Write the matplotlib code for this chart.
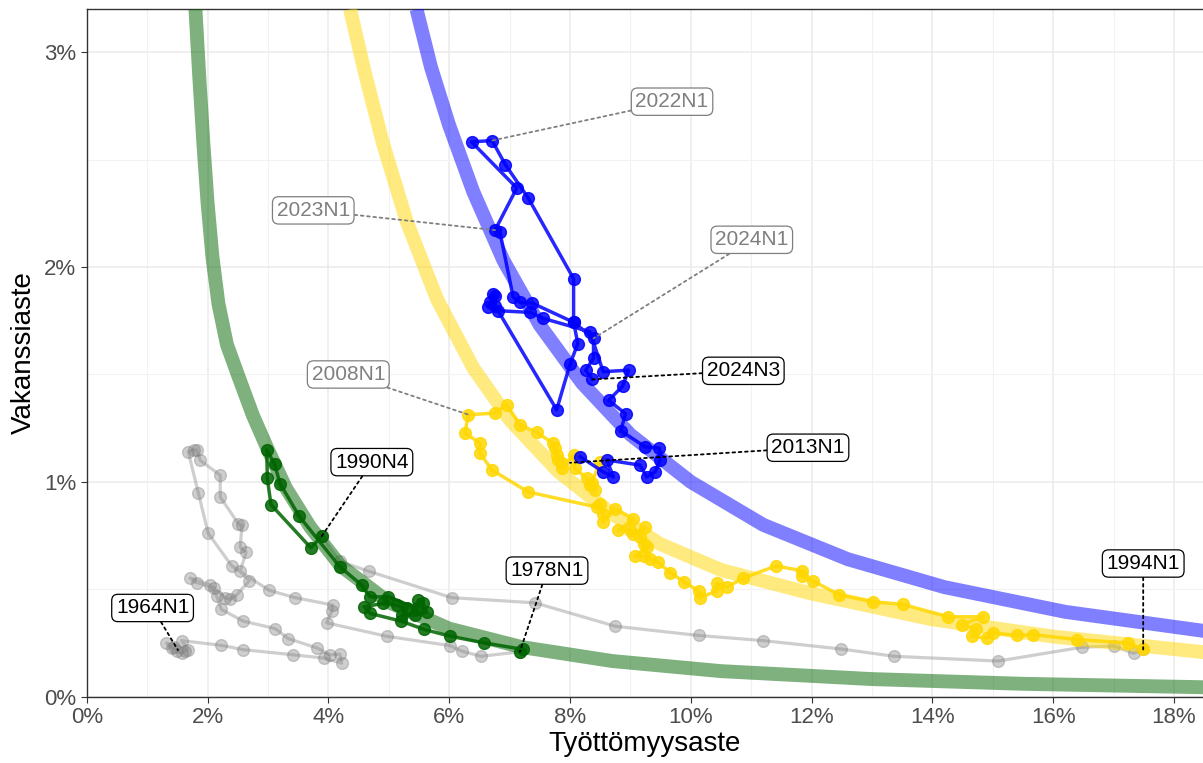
import matplotlib.pyplot as plt
from matplotlib.ticker import FixedLocator

plt.rcParams['font.family'] = ['Liberation Sans', 'DejaVu Sans']

# Beveridge curves (unemployment %, vacancy %), read along each band
green_curve_u = [1.80, 1.86, 1.93, 2.00, 2.08, 2.18, 2.32, 2.50, 2.75, 3.00, 3.30, 3.70, 4.20, 5.00, 6.00, 7.20, 8.70, 10.5, 13.0, 15.5, 18.5]
green_curve_v = [3.20, 2.90, 2.58, 2.30, 2.05, 1.83, 1.64, 1.50, 1.31, 1.15, 0.97, 0.79, 0.61, 0.44, 0.317, 0.231, 0.166, 0.119, 0.082, 0.060, 0.044]
yellow_curve_u = [4.36, 4.6, 4.9, 5.3, 5.8, 6.4, 7.0, 7.8, 8.7, 9.5, 10.5, 12.0, 14.0, 16.0, 18.5]
yellow_curve_v = [3.20, 2.91, 2.58, 2.21, 1.85, 1.53, 1.29, 1.05, 0.85, 0.71, 0.59, 0.48, 0.36, 0.28, 0.207]
blue_curve_u = [5.46, 5.7, 6.0, 6.4, 6.9, 7.5, 8.2, 9.0, 10.0, 11.2, 12.6, 14.2, 16.2, 18.5]
blue_curve_v = [3.20, 2.93, 2.66, 2.35, 2.03, 1.73, 1.46, 1.22, 1.00, 0.80, 0.64, 0.51, 0.395, 0.306]

# grey periods: 1964N1-1978N1 and 1990N4-1994N1
grey1_u = [1.45, 1.32, 1.41, 1.49, 1.57, 1.63, 1.68, 1.57, 2.23, 2.59, 3.42, 3.92, 4.22, 4.19, 4.03, 3.81,
           3.34, 3.12, 2.59, 2.23, 2.15, 2.04, 1.71, 1.82, 2.10, 2.29, 2.37, 2.48, 2.69, 2.54, 2.64, 2.54,
           2.57, 2.51, 2.21, 2.21, 1.88, 1.82, 1.77, 1.68, 1.85, 2.01, 2.40, 3.02, 3.45, 4.07, 4.06, 3.97,
           4.97, 6.01, 6.22, 6.53, 7.17]
grey1_v = [0.23, 0.25, 0.226, 0.211, 0.203, 0.214, 0.219, 0.261, 0.239, 0.219, 0.195, 0.18, 0.156, 0.198, 0.195, 0.227,
           0.27, 0.317, 0.352, 0.406, 0.469, 0.52, 0.552, 0.531, 0.508, 0.461, 0.453, 0.473, 0.539, 0.586, 0.672, 0.695,
           0.797, 0.805, 0.93, 1.031, 1.10, 1.149, 1.149, 1.141, 0.946, 0.761, 0.609, 0.495, 0.461, 0.427, 0.40, 0.344,
           0.281, 0.238, 0.211, 0.188, 0.209]
grey2_u = [3.89, 4.19, 4.68, 6.04, 7.42, 8.75, 10.13, 11.2, 12.49, 13.37, 15.09, 16.47, 17.0, 17.33, 17.49]
grey2_v = [0.747, 0.63, 0.583, 0.461, 0.437, 0.328, 0.285, 0.261, 0.222, 0.188, 0.166, 0.23, 0.236, 0.202, 0.22]

# 1978N1 - 1990N4
green_u = [7.17, 7.23, 6.57, 6.01, 5.59, 5.20, 4.69, 4.59, 4.91, 5.13, 5.30, 5.22, 5.44, 5.63, 5.57, 5.49,
           5.46, 4.99, 4.69, 4.55, 4.19, 3.52, 3.20, 3.11, 2.98, 2.99, 3.05, 3.71, 3.89]
green_v = [0.209, 0.22, 0.251, 0.282, 0.313, 0.352, 0.388, 0.419, 0.434, 0.426, 0.411, 0.38, 0.38, 0.395, 0.434, 0.45,
           0.411, 0.465, 0.465, 0.52, 0.605, 0.839, 0.992, 1.083, 1.149, 1.016, 0.894, 0.693, 0.747]

# 1994N1 - 2012N4
yellow_u = [17.49, 17.24, 16.39, 15.67, 15.40, 15.01, 14.90, 14.65, 14.73, 14.49, 14.84, 14.26, 13.51, 13.01, 12.46,
            12.02, 11.84, 11.84, 11.41, 10.87, 10.60, 10.43, 10.43, 10.15, 10.13, 9.88, 9.66, 9.46, 9.33, 9.22,
            9.08, 9.27, 9.22, 9.16, 9.24, 9.05, 9.00, 8.80, 9.05, 8.75, 8.55, 8.55, 8.50, 8.44, 7.31, 6.71, 6.51,
            6.51, 6.26, 6.32, 6.76, 6.95, 7.17, 7.45, 7.72, 7.75, 7.78, 7.81, 7.86, 7.86, 8.06, 8.08, 8.28, 8.33,
            8.42, 8.36, 8.50]
yellow_v = [0.22, 0.25, 0.266, 0.289, 0.285, 0.297, 0.273, 0.281, 0.313, 0.336, 0.372, 0.372, 0.43, 0.442, 0.474,
            0.539, 0.563, 0.586, 0.609, 0.552, 0.511, 0.527, 0.492, 0.461, 0.492, 0.536, 0.578, 0.625, 0.641, 0.656,
            0.656, 0.695, 0.711, 0.742, 0.789, 0.758, 0.774, 0.774, 0.828, 0.875, 0.812, 0.852, 0.899, 0.883, 0.953,
            1.055, 1.133, 1.18, 1.227, 1.313, 1.32, 1.36, 1.266, 1.23, 1.18, 1.157, 1.125, 1.102, 1.086, 1.063,
            1.125, 1.063, 1.016, 0.985, 0.961, 0.995, 1.094]

# 2013N1 - 2024N3
blue_u = [8.17, 8.55, 8.72, 8.61, 9.16, 9.27, 9.41, 9.49, 9.48, 9.24, 8.84, 8.92, 8.64, 8.87, 8.97, 8.55,
          8.33, 7.56, 7.34, 6.81, 6.65, 6.68, 6.73, 6.76, 6.76, 7.78, 8.00, 8.13, 8.06, 8.06, 7.31, 6.93,
          6.71, 6.37, 7.12, 6.76, 6.84, 7.06, 7.17, 7.37, 8.06, 8.39, 8.39, 8.26, 8.37]
blue_v = [1.117, 1.047, 1.023, 1.102, 1.078, 1.023, 1.047, 1.102, 1.157, 1.164, 1.238, 1.317, 1.38, 1.445, 1.52, 1.513,
          1.699, 1.761, 1.789, 1.797, 1.813, 1.836, 1.875, 1.867, 1.820, 1.336, 1.547, 1.644, 1.743, 1.946, 2.321, 2.477,
          2.589, 2.583, 2.368, 2.172, 2.164, 1.86, 1.836, 1.833, 1.743, 1.668, 1.575, 1.52, 1.477]

# labels: text, point, label centre, dark or grey
label_text = ['1964N1', '1978N1', '1990N4', '1994N1', '2008N1', '2013N1', '2022N1', '2023N1', '2024N1', '2024N3']
label_pt = [(1.51, 0.217), (7.17, 0.209), (3.89, 0.747), (17.49, 0.22), (6.32, 1.313), (8.0, 1.089),
            (6.71, 2.589), (6.76, 2.172), (8.39, 1.668), (8.37, 1.477)]
label_pos = [(1.09, 0.413), (7.62, 0.587), (4.72, 1.092), (17.49, 0.62), (4.33, 1.50), (11.94, 1.159),
             (9.69, 2.77), (3.75, 2.264), (11.01, 2.127), (10.87, 1.517)]
label_dark = [True, True, True, True, False, True, False, False, False, True]

fig = plt.figure(figsize=(12.03, 7.63), dpi=100)
ax = fig.add_axes([0.0721, 0.0869, 0.9279, 0.9009])

ax.plot(grey1_u, grey1_v, color='grey', alpha=0.38, lw=2.3, marker='o', ms=8.5, zorder=2)
ax.plot(grey2_u, grey2_v, color='grey', alpha=0.38, lw=2.3, marker='o', ms=8.5, zorder=2)

ax.plot(green_curve_u, green_curve_v, color='darkgreen', alpha=0.5, lw=10, solid_capstyle='butt',
        solid_joinstyle='round', zorder=3)
ax.plot(yellow_curve_u, yellow_curve_v, color='gold', alpha=0.5, lw=10, solid_capstyle='butt',
        solid_joinstyle='round', zorder=3)
ax.plot(blue_curve_u, blue_curve_v, color='blue', alpha=0.5, lw=10, solid_capstyle='butt',
        solid_joinstyle='round', zorder=3)

ax.plot(green_u, green_v, color='darkgreen', alpha=0.85, lw=2.5, marker='o', ms=8.5, zorder=4)
ax.plot(yellow_u, yellow_v, color='gold', alpha=0.85, lw=2.5, marker='o', ms=8.5, zorder=4)
ax.plot(blue_u, blue_v, color='blue', alpha=0.85, lw=2.5, marker='o', ms=8.5, zorder=4)

for txt, pt, pos, dark in zip(label_text, label_pt, label_pos, label_dark):
    col = 'black' if dark else '#7f7f7f'
    ax.annotate(txt, xy=pt, xytext=pos, ha='center', va='center', fontsize=15, color=col, zorder=6,
                bbox=dict(boxstyle='round,pad=0.2,rounding_size=0.3', fc='white', ec=col, lw=0.9),
                arrowprops=dict(arrowstyle='-', ls=(0, (1.5, 2)), color=col, lw=1.3, shrinkA=0, shrinkB=0))

ax.set_xlim(0, 18.48)
ax.set_ylim(0, 3.2)
ax.xaxis.set_major_locator(FixedLocator(range(0, 19, 2)))
ax.xaxis.set_minor_locator(FixedLocator(range(1, 19, 2)))
ax.yaxis.set_major_locator(FixedLocator([0, 1, 2, 3]))
ax.yaxis.set_minor_locator(FixedLocator([0.5, 1.5, 2.5]))
ax.set_xticklabels([f'{t}%' for t in range(0, 19, 2)])
ax.set_yticklabels(['0%', '1%', '2%', '3%'])
ax.grid(which='major', color='#ebebeb', lw=1.1, zorder=0)
ax.grid(which='minor', color='#f2f2f2', lw=0.8, zorder=0)
ax.set_axisbelow(True)
ax.tick_params(which='major', labelsize=16, labelcolor='#4d4d4d', color='#333333', length=4)
ax.tick_params(which='minor', length=0)
for side in ['left', 'bottom', 'top']:
    ax.spines[side].set_color('#333333')
    ax.spines[side].set_linewidth(1.0)
ax.spines['right'].set_visible(False)

ax.set_xlabel('Työttömyysaste', fontsize=20, labelpad=2)
ax.set_ylabel('Vakanssiaste', fontsize=20, labelpad=5)

fig.savefig('out.png', dpi=100)
